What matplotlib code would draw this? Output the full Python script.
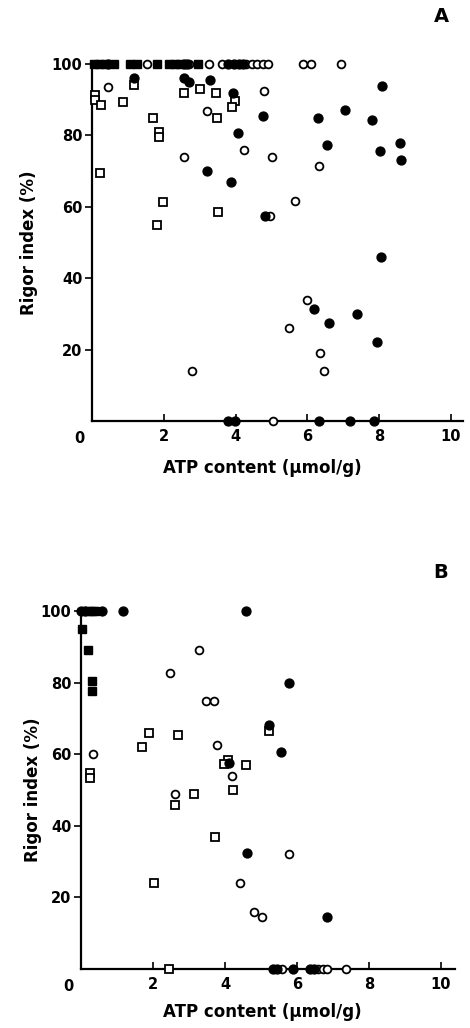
import matplotlib.pyplot as plt

plt.rcParams['font.family'] = ['DejaVu Sans']
plt.rcParams['font.weight'] = 'bold'

# ---- Panel A data (ATP content, rigor index) ----
a_fsq_x = [0.05, 0.2, 0.35, 0.6, 1.05, 1.25, 1.8, 2.15, 2.3, 2.45, 2.95]
a_fsq_y = [100] * 11

a_fci_x = [0.45, 2.55, 2.65, 3.8, 3.95, 4.1, 4.2,
           1.17, 2.56, 2.7, 3.28, 3.2, 3.93, 3.87, 4.07, 4.76, 4.82,
           8.08, 7.05, 6.3, 7.8, 6.55, 8.58, 8.02, 8.6, 8.05, 6.18, 7.38,
           6.6, 7.94, 3.8, 3.98, 6.32, 7.19, 7.86]
a_fci_y = [100, 100, 100, 100, 100, 100, 100,
           96, 96, 95, 95.5, 70, 91.8, 67, 80.7, 85.4, 57.5,
           93.8, 87, 85, 84.4, 77.3, 77.8, 75.6, 73, 46, 31.4, 30,
           27.5, 22, 0, 0, 0, 0, 0]

a_oci_x = [1.53, 2.7, 3.25, 3.62, 4.3, 4.45, 4.6, 4.75, 4.9, 5.88, 6.1, 6.94,
           0.45, 2.56, 3.2, 4.23, 4.79, 5.01, 4.95, 5.65, 6.32, 2.79, 5.04,
           6.0, 5.49, 6.35, 6.46]
a_oci_y = [100] * 12 + [93.5, 74, 86.8, 76, 92.5, 74, 57.5, 61.6, 71.4, 14, 0,
                        34, 26, 19, 14]

a_osq_x = [1.17, 0.08, 0.08, 0.25, 0.86, 0.22, 1.7, 1.87, 1.87, 1.98, 1.81,
           2.56, 3.0, 3.45, 3.48, 3.5, 3.98, 3.9]
a_osq_y = [94, 91.3, 90, 88.5, 89.3, 69.5, 85, 81, 79.5, 61.3, 55,
           91.8, 93, 92, 85, 58.5, 89.6, 87.9]

# ---- Panel B data ----
b_fsq_x = [0.2, 0.3, 0.4, 0.03, 0.2, 0.3, 0.3]
b_fsq_y = [100, 100, 100, 95, 89, 80.4, 77.6]

b_fci_x = [0.0, 0.1, 0.58, 1.17, 4.58, 5.78, 5.22, 5.55, 4.1, 4.6, 6.83,
           5.33, 5.44, 5.89, 6.36, 6.47]
b_fci_y = [100, 100, 100, 100, 100, 80, 68.2, 60.6, 57.6, 32.4, 14.5,
           0, 0, 0, 0, 0]

b_oci_x = [0.33, 3.28, 2.47, 3.47, 3.69, 3.78, 4.19, 2.62, 4.42, 4.8, 5.03,
           5.78, 5.58, 6.58, 6.72, 6.83, 7.36]
b_oci_y = [60, 89, 82.7, 75, 75, 62.5, 54, 49, 24, 16, 14.6,
           32, 0, 0, 0, 0, 0]

b_osq_x = [0.25, 0.25, 1.89, 2.69, 1.69, 4.08, 3.97, 4.58, 5.22, 4.22, 2.62,
           3.14, 3.72, 2.03, 2.44]
b_osq_y = [54.7, 53.3, 66, 65.4, 62, 58.4, 57.3, 57, 66.5, 50, 45.8,
           49, 36.9, 24, 0]

W, H = 470, 1028
fig = plt.figure(figsize=(W / 100, H / 100), dpi=100)


def make_axes(x0, x10, y0, y100, xend):
    # pixel positions of data 0/10 on x and 0/100 on y
    per = (x10 - x0) / 10.0
    ax = fig.add_axes([x0 / W, 1 - y0 / H, (xend - x0) / W, (y0 - y100) / H])
    ax.set_xlim(0, (xend - x0) / per)
    ax.set_ylim(0, 100)
    return ax


def draw(ax, fsq, fci, oci, osq, panel, panel_xy, ylab_x, xlab_y):
    ax.plot(*osq, ls='none', marker='s', ms=5.2, mfc='white', mec='black',
            mew=1.3, clip_on=False, zorder=3)
    ax.plot(*oci, ls='none', marker='o', ms=5.6, mfc='white', mec='black',
            mew=1.3, clip_on=False, zorder=3)
    ax.plot(*fsq, ls='none', marker='s', ms=5.8, mfc='black', mec='black',
            clip_on=False, zorder=4)
    ax.plot(*fci, ls='none', marker='o', ms=6.4, mfc='black', mec='black',
            clip_on=False, zorder=4)
    for s in ['top', 'right']:
        ax.spines[s].set_visible(False)
    for s in ['left', 'bottom']:
        ax.spines[s].set_linewidth(1.6)
    ax.set_xticks([2, 4, 6, 8, 10])
    ax.set_yticks([20, 40, 60, 80, 100])
    ax.tick_params(axis='x', direction='in', length=5, width=1.2,
                   labelsize=10.5, pad=6)
    ax.tick_params(axis='y', direction='out', length=5, width=1.2,
                   labelsize=10.5, pad=2)
    ax.text(-0.035, -0.028, '0', transform=ax.transAxes, ha='center',
            va='top', fontsize=10.5, fontweight='bold')
    fig.text(panel_xy[0] / W, 1 - panel_xy[1] / H, panel, ha='center',
             va='center', fontsize=14, fontweight='bold')
    fig.text(ylab_x / W, 0.5 * (ax.get_position().y0 + ax.get_position().y1),
             'Rigor index (%)', rotation=90, ha='center', va='center',
             fontsize=12, fontweight='bold')
    fig.text(262 / W, 1 - xlab_y / H, 'ATP content (\u03bcmol/g)',
             ha='center', va='center', fontsize=12, fontweight='bold')


ax_a = make_axes(92, 451, 421, 64, 463)
draw(ax_a, (a_fsq_x, a_fsq_y), (a_fci_x, a_fci_y), (a_oci_x, a_oci_y),
     (a_osq_x, a_osq_y), 'A', (441, 17), 29, 468)

ax_b = make_axes(81, 441, 969, 611, 455)
draw(ax_b, (b_fsq_x, b_fsq_y), (b_fci_x, b_fci_y), (b_oci_x, b_oci_y),
     (b_osq_x, b_osq_y), 'B', (441, 572), 33, 1012)

fig.savefig('out.png', dpi=100)
